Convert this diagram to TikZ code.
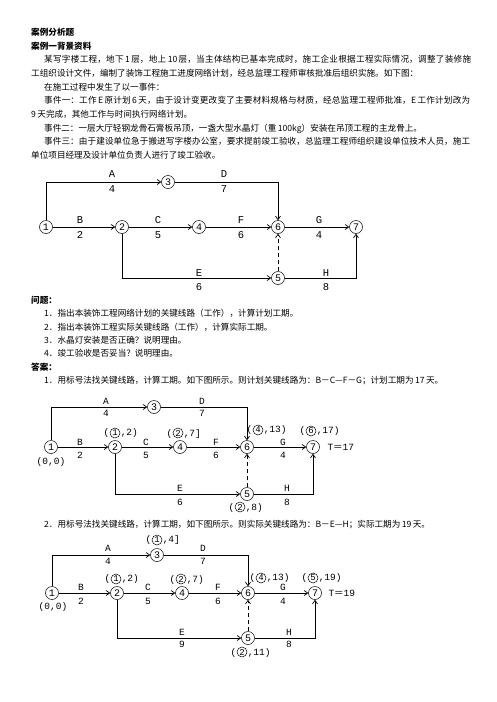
\documentclass[tikz,border=0pt]{standalone}
\usepackage{fontspec}
\usepackage{tikz}
\usetikzlibrary{arrows.meta,positioning,calc}
\newfontfamily\cjk{Noto Sans CJK SC}
\newfontfamily\labfont{Liberation Mono}
\XeTeXlinebreaklocale "zh"
\XeTeXlinebreakskip=0pt plus 1pt
% one justified line of running text
\newcommand\jline[1]{{\noindent\parfillskip=0pt\relax #1\par}}
% label such as (1,2) with the event number in a circle
\newcommand\labnum[5]{%
  \node[cnum] (#1) at (#2,#3) {#4};
  \node[lab, anchor=base east] (#1l) at (#1.base west) {(};
  \node[lab, anchor=base west] (#1r) at (#1.base east) {#5};}

\begin{document}
\begin{tikzpicture}[x=1pt, y=-1pt,
  txt/.style={anchor=base west, inner sep=0pt, font=\cjk\fontsize{8.6}{10}\selectfont},
  jtxt/.style={txt, text width=#1, align=justify},
  evt/.style={draw, circle, minimum size=13pt, inner sep=0pt, line width=0.5pt, font=\labfont\fontsize{10}{10}\selectfont},
  cnum/.style={draw, circle, minimum size=10pt, inner sep=0pt, line width=0.5pt, font=\labfont\fontsize{9}{9}\selectfont},
  lab/.style={inner sep=0.3pt, font=\labfont\fontsize{9.5}{10}\selectfont},
  biglab/.style={lab, font=\labfont\fontsize{10.5}{11}\selectfont},
  arr/.style={-{Straight Barb[length=3.5pt,width=5pt]}, line width=0.7pt},
  dsh/.style={arr, dash pattern=on 4pt off 3pt}]
  \fill[white] (0,0) rectangle (496,702);
  \useasboundingbox (0,0) rectangle (496,702);

  % background text
  \node[txt] (t1) at (31,35.3) {\textbf{案例分析题}};
  \node[txt] (t2) at (31,49) {\textbf{案例一背景资料}};
  \node[jtxt=427pt] (t3) at (44,62.7) {\jline{某写字楼工程，地下\,1\,层，地上\,10\,层，当主体结构已基本完成时，施工企业根据工程实际情况，调整了装修施}};
  \node[txt] (t4) at (31,76.4) {工组织设计文件，编制了装饰工程施工进度网络计划，经总监理工程师审核批准后组织实施。如下图：};
  \node[txt] (t5) at (44,90.1) {在施工过程中发生了以一事件：};
  \node[jtxt=426pt] (t6) at (44,103.8) {\jline{事件一：工作\,E\,原计划\,6\,天，由于设计变更改变了主要材料规格与材质，经总监理工程师批准，E\,工作计划改为}};
  \node[txt] (t7) at (31,117.5) {9\,天完成，其他工作与时间执行网络计划。};
  \node[txt] (t8) at (44,131.2) {事件二：一层大厅轻钢龙骨石膏板吊顶，一盏大型水晶灯（重\,100kg）安装在吊顶工程的主龙骨上。};
  \node[jtxt=426pt] (t9) at (44,144.9) {\jline{事件三：由于建设单位急于搬进写字楼办公室，要求提前竣工验收，总监理工程师组织建设单位技术人员，施工}};
  \node[txt] (t10) at (31,158.6) {单位项目经理及设计单位负责人进行了竣工验收。};

  % plan network
  \node[evt] (a1) at (46,227) {1};
  \node[evt] (a2) at (122,227) {2};
  \node[evt] (a3) at (168,182) {3};
  \node[evt] (a4) at (199,227) {4};
  \node[evt] (a5) at (278,278) {5};
  \node[evt] (a6) at (278,227) {6};
  \node[evt] (a7) at (356,227) {7};
  \draw[arr] (a1.north) |- (a3);
  \draw[arr] (a3) -| (a6);
  \draw[arr] (a1) -- (a2);
  \draw[arr] (a2) -- (a4);
  \draw[arr] (a4) -- (a6);
  \draw[arr] (a6) -- (a7);
  \draw[arr] (a2.south) |- (a5);
  \draw[arr] (a5) -| (a7.south);
  \draw[dsh] (a5) -- (a6);
  \foreach \x/\u/\v/\w/\d in {112/174/189/A/4, 224/174/189/D/7, 80/220/235/B/2, 158/220/235/C/5,
      241/220/235/F/6, 319/220/235/G/4, 199/273/287/E/6, 326/273/287/H/8}{
    \node[biglab] (a\w) at (\x,\u) {\w};
    \node[biglab] (a\w d) at (\x,\v) {\d};
  }

  % questions and answers
  \node[txt] (q0) at (31,303.3) {\textbf{问题：}};
  \node[txt] (q1) at (44,316.7) {1．指出本装饰工程网络计划的关键线路（工作），计算计划工期。};
  \node[txt] (q2) at (44,330.1) {2．指出本装饰工程实际关键线路（工作），计算实际工期。};
  \node[txt] (q3) at (44,343.5) {3．水晶灯安装是否正确？说明理由。};
  \node[txt] (q4) at (44,356.9) {4．竣工验收是否妥当？说明理由。};
  \node[txt] (s0) at (31,370.3) {\textbf{答案：}};
  \node[txt] (s1) at (44,383.7) {1．用标号法找关键线路，计算工期。如下图所示。则计划关键线路为：B－C—F－G；计划工期为\,17\,天。};

  % labelled plan network
  \node[evt] (b1) at (51,447) {1};
  \node[evt] (b2) at (115,447) {2};
  \node[evt] (b3) at (154,407) {3};
  \node[evt] (b4) at (180,447) {4};
  \node[evt] (b5) at (247,494) {5};
  \node[evt] (b6) at (247,447) {6};
  \node[evt] (b7) at (313,447) {7};
  \draw[arr] (b1.north) |- (b3);
  \draw[arr] (b3) -| (b6);
  \draw[arr] (b1) -- (b2);
  \draw[arr] (b2) -- (b4);
  \draw[arr] (b4) -- (b6);
  \draw[arr] (b6) -- (b7);
  \draw[arr] (b2.south) |- (b5);
  \draw[arr] (b5) -| (b7.south);
  \draw[dsh] (b5) -- (b6);
  \foreach \x/\u/\v/\w/\d in {106/401/413/A/4, 202/401/413/D/7, 80/442/455/B/2, 146/442/455/C/5,
      216/442/455/F/6, 283/442/455/G/4, 180/488/502/E/6, 287/488/502/H/8}{
    \node[lab] (b\w) at (\x,\u) {\w};
    \node[lab] (b\w d) at (\x,\v) {\d};
  }
  \node[lab] (b0) at (51,462) {(0,0)};
  \labnum{bm2}{115}{433}{1}{,2)}
  \labnum{bm4}{178}{433}{2}{,7]}
  \labnum{bm6}{258}{430}{4}{,13)}
  \labnum{bm7}{311}{431}{6}{,17)}
  \labnum{bm5}{240}{507}{2}{,8)}
  \node[lab, anchor=west] (bt) at (327,447) {T{\cjk ＝}17};

  \node[txt] (s2) at (44,527.3) {2．用标号法找关键线路，计算工期，如下图所示。则实际关键线路为：B－E—H；实际工期为\,19\,天。};

  % labelled actual network
  \node[evt] (c1) at (52,593) {1};
  \node[evt] (c2) at (117,593) {2};
  \node[evt] (c3) at (157,555) {3};
  \node[evt] (c4) at (182,593) {4};
  \node[evt] (c5) at (248,638) {5};
  \node[evt] (c6) at (248,593) {6};
  \node[evt] (c7) at (315,593) {7};
  \draw[arr] (c1.north) |- (c3);
  \draw[arr] (c3) -| (c6);
  \draw[arr] (c1) -- (c2);
  \draw[arr] (c2) -- (c4);
  \draw[arr] (c4) -- (c6);
  \draw[arr] (c6) -- (c7);
  \draw[arr] (c2.south) |- (c5);
  \draw[arr] (c5) -| (c7.south);
  \draw[dsh] (c5) -- (c6);
  \foreach \x/\u/\v/\w/\d in {108/548/561/A/4, 203/548/561/D/7, 81/587/601/B/2, 148/587/601/C/5,
      218/587/601/F/6, 283/587/601/G/4, 182/632/644/E/9, 289/632/644/H/8}{
    \node[lab] (c\w) at (\x,\u) {\w};
    \node[lab] (c\w d) at (\x,\v) {\d};
  }
  \node[lab] (c0) at (53,607) {(0,0)};
  \labnum{cm3}{157}{540}{1}{,4]}
  \labnum{cm2}{116}{579}{1}{,2)}
  \labnum{cm4}{181}{579}{2}{,7)}
  \labnum{cm6}{261}{578}{4}{,13)}
  \labnum{cm7}{313}{578}{5}{,19)}
  \labnum{cm5}{242}{652}{2}{,11)}
  \node[lab, anchor=west] (ct) at (328,593) {T{\cjk ＝}19};
\end{tikzpicture}
\end{document}
